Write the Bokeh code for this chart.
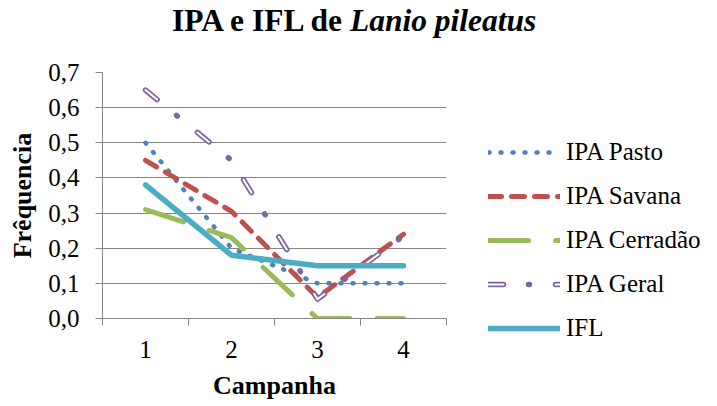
from bokeh.plotting import figure
from bokeh.layouts import column
from bokeh.models import (Range1d, FixedTicker, Legend, LegendItem, Div)
from bokeh.embed import file_html
from bokeh.resources import INLINE

# ---- data ----
campanha = [1, 2, 3, 4]
ipa_pasto = [0.50, 0.20, 0.10, 0.10]
ipa_savana = [0.45, 0.305, 0.06, 0.24]
ipa_cerradao = [0.31, 0.23, 0.0, 0.0]
ipa_geral = [0.65, 0.45, 0.055, 0.235]
ifl = [0.38, 0.18, 0.15, 0.15]
series_names = ["IPA Pasto", "IPA Savana", "IPA Cerradão", "IPA Geral", "IFL"]
y_ticks = [0.0, 0.1, 0.2, 0.3, 0.4, 0.5, 0.6, 0.7]
x_labels = ["1", "2", "3", "4"]
title_bold = "IPA e IFL de"
title_italic = "Lanio pileatus"
x_title = "Campanha"
y_title = "Frêquencia"

FONT = "Liberation Serif"
GRID = "#868686"

# ---- title (mixed bold / bold italic) ----
title_div = Div(
    text=(f'<div style="font-family:\'{FONT}\',serif; font-size:31.5px; '
          f'font-weight:bold; line-height:1; white-space:nowrap; margin:0; '
          f'padding:5px 0 0 172px; color:black;">{title_bold} '
          f'<i>{title_italic}</i></div>'),
    width=701, height=48, margin=(0, 0, 0, 0))

# ---- main chart ----
p = figure(output_backend="svg", toolbar_location=None,
           frame_width=344, frame_height=246,
           min_border_left=102, min_border_right=255,
           min_border_top=24, min_border_bottom=80,
           x_range=Range1d(0.5, 4.5), y_range=Range1d(0, 0.7))
p.outline_line_color = None
p.background_fill_color = "white"
p.border_fill_color = "white"

# grid
p.xgrid.visible = False
p.ygrid.ticker = FixedTicker(ticks=y_ticks)
p.ygrid.grid_line_color = GRID
p.ygrid.grid_line_width = 1

# x axis
xa = p.xaxis[0]
xa.ticker = FixedTicker(ticks=campanha, minor_ticks=[0.5, 1.5, 2.5, 3.5, 4.5])
xa.major_label_overrides = {c: l for c, l in zip(campanha, x_labels)}
xa.major_tick_out = 0
xa.major_tick_in = 0
xa.minor_tick_out = 7
xa.minor_tick_in = 0
xa.minor_tick_line_color = GRID
xa.axis_line_color = GRID
xa.major_label_standoff = 15
xa.major_label_text_font = FONT
xa.major_label_text_font_size = "25px"
xa.major_label_text_color = "black"
xa.axis_label = x_title
xa.axis_label_text_font = FONT
xa.axis_label_text_font_size = "26px"
xa.axis_label_text_font_style = "bold"
xa.axis_label_text_color = "black"
xa.axis_label_standoff = 10

# y axis
ya = p.yaxis[0]
ya.ticker = FixedTicker(ticks=y_ticks, minor_ticks=[])
ya.major_label_overrides = {t_: f"{t_:.1f}".replace(".", ",") for t_ in y_ticks}
ya.major_tick_out = 7
ya.major_tick_in = 0
ya.major_tick_line_color = GRID
ya.axis_line_color = GRID
ya.major_label_standoff = 16
ya.major_label_text_font = FONT
ya.major_label_text_font_size = "25px"
ya.major_label_text_color = "black"
ya.axis_label = y_title
ya.axis_label_text_font = FONT
ya.axis_label_text_font_size = "26px"
ya.axis_label_text_font_style = "bold"
ya.axis_label_text_color = "black"
ya.axis_label_standoff = 8

# series
r_pasto = p.line(campanha, ipa_pasto, line_color="#4F81BD", line_width=4.5,
                 line_dash="1 11", line_cap="round", line_join="round")
r_savana = p.line(campanha, ipa_savana, line_color="#C0504D", line_width=5,
                  line_dash="13 10", line_cap="round", line_join="round")
r_cerr = p.line(campanha, ipa_cerradao, line_color="#9BBB59", line_width=5,
                line_dash="40 27", line_cap="round", line_join="round")
r_geral = p.line(campanha, ipa_geral, line_color="#8064A2", line_width=5.5,
                 line_dash="15 25 1 26", line_cap="round", line_join="round")
r_geral_in = p.line(campanha, ipa_geral, line_color="white", line_width=2,
                    line_dash="15 52", line_cap="round", line_join="round")
r_ifl = p.line(campanha, ifl, line_color="#4BACC6", line_width=5.5,
               line_cap="round", line_join="round")

legend = Legend(items=[
    LegendItem(label=series_names[0], renderers=[r_pasto]),
    LegendItem(label=series_names[1], renderers=[r_savana]),
    LegendItem(label=series_names[2], renderers=[r_cerr]),
    LegendItem(label=series_names[3], renderers=[r_geral, r_geral_in]),
    LegendItem(label=series_names[4], renderers=[r_ifl]),
], location=(42, -32))
legend.glyph_width = 72
legend.glyph_height = 44
legend.label_height = 44
legend.spacing = 0
legend.padding = 0
legend.margin = 0
legend.label_standoff = 6
legend.border_line_color = None
legend.background_fill_alpha = 0
legend.label_text_font = FONT
legend.label_text_font_size = "25px"
legend.label_text_color = "black"
p.add_layout(legend, "right")

layout = column(title_div, p, spacing=0)
open("out.html", "w").write(file_html(layout, INLINE))
